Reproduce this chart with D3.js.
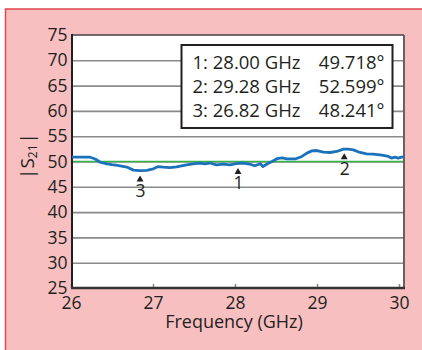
<!DOCTYPE html>
<html><head><meta charset="utf-8">
<script src="https://cdn.jsdelivr.net/npm/d3@7"></script>
<style>body{margin:0;background:#fff}svg{display:block}</style>
</head><body><svg id="c" width="422" height="350"></svg>
<script>
// ---- data ----
const freqs = [26.00,26.10,26.22,26.28,26.34,26.42,26.48,26.53,26.58,26.66,26.74,26.82,26.90,26.98,27.04,27.10,27.18,27.26,27.32,27.38,27.46,27.54,27.60,27.66,27.74,27.82,27.90,27.98,28.06,28.14,28.20,28.27,28.30,28.35,28.41,28.47,28.53,28.59,28.69,28.77,28.83,28.89,28.95,29.03,29.11,29.19,29.27,29.33,29.39,29.47,29.55,29.63,29.71,29.75,29.81,29.85,29.89,29.93,29.97,30.00];
const s21 = [50.85,50.85,50.85,50.5,49.85,49.55,49.4,49.3,49.15,48.9,48.3,48.2,48.25,48.55,49.0,48.9,48.8,48.95,49.15,49.35,49.55,49.7,49.55,49.7,49.35,49.5,49.35,49.6,49.7,49.5,49.15,49.55,49.0,49.5,50.0,50.55,50.7,50.5,50.5,51.0,51.66,52.1,52.17,51.86,51.78,51.98,52.45,52.45,52.3,51.78,51.52,51.46,51.32,51.19,51.0,50.67,50.87,50.67,50.87,50.9];
const yTicks = [25,30,35,40,45,50,55,60,65,70,75];
const xTicks = [26,27,28,29,30];
const markerIds = [1,2,3];
const markerFreqs = [28.00,29.28,26.82];
const markerValues = [49.718,52.599,48.241];
const refLevel = 50;
const xTitle = "Frequency (GHz)";

// ---- layout ----
const svg = d3.select("#c");
const L = 72, R = 404, T = 35, B = 288;
const ink = "#231f20";
const font = "'Open Sans', sans-serif";
const fs = 17.5;

svg.append("rect").attr("x",5.5).attr("y",9).attr("width",430).attr("height",360)
  .attr("fill","#f8bfc0").attr("stroke","#e2474c").attr("stroke-width",1.5);
svg.append("rect").attr("x",L).attr("y",T).attr("width",R-L).attr("height",B-T).attr("fill","#fff");

const x = d3.scaleLinear().domain([26,30]).range([L,R]);
const xAxisScale = d3.scaleLinear().domain([26,30]).range([71,399]);
const y = d3.scaleLinear().domain([25,75]).range([B,T]);

// grid
const grid = svg.append("g").attr("transform",`translate(${L},0)`)
  .call(d3.axisLeft(y).tickValues(yTicks.slice(1,-1)).tickSize(-(R-L)).tickFormat(""));
grid.select(".domain").remove();
grid.selectAll("line").attr("stroke","#8a8a8a").attr("stroke-width",1.6);

// reference line
svg.append("line").attr("x1",L).attr("x2",R).attr("y1",y(refLevel)).attr("y2",y(refLevel))
  .attr("stroke","#37b34a").attr("stroke-width",1.6);

// frame: top & right
svg.append("line").attr("x1",L).attr("x2",R).attr("y1",T).attr("y2",T).attr("stroke","#444").attr("stroke-width",1.6);
svg.append("line").attr("x1",R).attr("x2",R).attr("y1",T).attr("y2",B).attr("stroke","#555").attr("stroke-width",1.8);

// y axis labels
const ya = svg.append("g").attr("transform",`translate(${L},0)`)
  .call(d3.axisLeft(y).tickValues(yTicks).tickSize(0).tickPadding(4.5));
ya.select(".domain").remove();
ya.selectAll("text").attr("font-family",font).attr("font-size",fs).attr("fill",ink);

// x axis
const xa = svg.append("g").attr("transform",`translate(0,${B})`)
  .call(d3.axisBottom(xAxisScale).tickValues(xTicks).tickFormat(d3.format("d"))
    .tickSizeInner(-4).tickSizeOuter(0).tickPadding(9));
xa.select(".domain").remove();
xa.selectAll("line").attr("stroke","#888").attr("stroke-width",1.5);
xa.selectAll("text").attr("font-family",font).attr("font-size",fs).attr("fill",ink);

// axis lines
svg.append("line").attr("x1",L).attr("x2",L).attr("y1",T-1).attr("y2",B+1).attr("stroke",ink).attr("stroke-width",2);
svg.append("line").attr("x1",L-1).attr("x2",R+1).attr("y1",B).attr("y2",B).attr("stroke","#333").attr("stroke-width",2.4);

// trace
const pts = freqs.map((f,i)=>[f,s21[i]]);
svg.append("path").datum(pts)
  .attr("d",d3.line().x(d=>x(d[0])).y(d=>y(d[1])).curve(d3.curveLinear))
  .attr("fill","none").attr("stroke","#1b72bb").attr("stroke-width",2.8).attr("stroke-linejoin","round");

// markers
markerIds.forEach((id,i)=>{
  const mx = x(markerFreqs[i]), my = y(markerValues[i]) + 5;
  svg.append("path").attr("d",`M${mx},${my}l3.5,6l-7,0z`).attr("fill",ink);
  svg.append("text").attr("x",mx+0.5).attr("y",my+21.5).attr("text-anchor","middle")
    .attr("font-family",font).attr("font-size",fs).attr("fill",ink).text(id);
});

// legend box
svg.append("rect").attr("x",181.5).attr("y",45).attr("width",211).attr("height",83)
  .attr("fill","#fff").attr("stroke",ink).attr("stroke-width",2);
const f2 = d3.format(".2f"), f3 = d3.format(".3f");
markerIds.forEach((id,i)=>{
  const by = 69 + i*24.2;
  svg.append("text").attr("x",192.5).attr("y",by).attr("font-family",font).attr("font-size",18.5).attr("fill",ink)
    .text(`${id}: ${f2(markerFreqs[i])} GHz`);
  svg.append("text").attr("x",384.5).attr("y",by).attr("text-anchor","end").attr("font-family",font).attr("font-size",18.5).attr("fill",ink)
    .text(`${f3(markerValues[i])}°`);
});

// titles
svg.append("text").attr("x",234).attr("y",327.5).attr("text-anchor","middle")
  .attr("font-family",font).attr("font-size",18).attr("fill",ink).text(xTitle);
const yt = svg.append("text").attr("transform","translate(33.5,156) rotate(-90)").attr("text-anchor","middle")
  .attr("font-family",font).attr("font-size",19).attr("fill",ink);
yt.append("tspan").text("|S");
yt.append("tspan").attr("font-size",12).attr("dy",3).text("21");
yt.append("tspan").attr("dy",-3).attr("dx",1).text("|");
</script></body></html>
